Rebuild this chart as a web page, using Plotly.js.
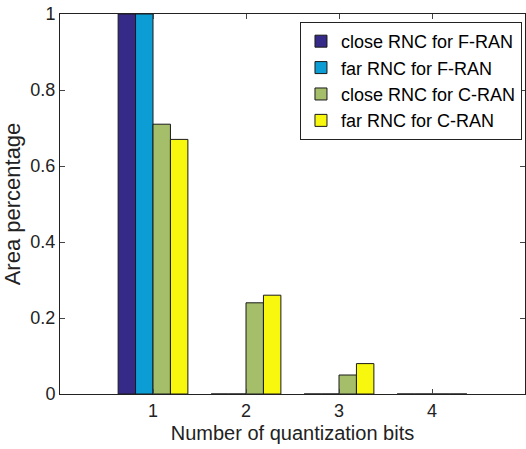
<!DOCTYPE html>
<html>
<head>
<meta charset="utf-8">
<script src="https://cdn.plot.ly/plotly-3.0.1.min.js"></script>
<style>html,body{margin:0;padding:0;background:#fff;}#chart{width:526px;height:449px;}</style>
</head>
<body>
<div id="chart"></div>
<script>
const categories = [1, 2, 3, 4];
const seriesNames = ["close RNC for F-RAN", "far RNC for F-RAN", "close RNC for C-RAN", "far RNC for C-RAN"];
const closeFRAN = [1, 0, 0, 0];
const farFRAN = [1, 0, 0, 0];
const closeCRAN = [0.71, 0.24, 0.05, 0];
const farCRAN = [0.67, 0.26, 0.08, 0];
const colors = ["#352a87", "#0c9dd4", "#a5be6a", "#f8f80e"];
const yTicks = [0, 0.2, 0.4, 0.6, 0.8, 1];

const seriesValues = [closeFRAN, farFRAN, closeCRAN, farCRAN];
const fontFam = "Liberation Sans, Arial, sans-serif";
const traces = seriesValues.map((vals, i) => ({
  type: "bar",
  x: categories,
  y: vals,
  name: seriesNames[i],
  marker: {color: colors[i], line: {color: "#1a1a1a", width: 1}}
}));

const layout = {
  width: 526, height: 449,
  margin: {l: 60, r: 1, t: 14, b: 55},
  paper_bgcolor: "#fff", plot_bgcolor: "#fff",
  barmode: "group", bargap: 0.25, bargroupgap: 0,
  font: {family: fontFam, size: 16, color: "#222"},
  showlegend: true,
  legend: {
    x: 0.9935, xanchor: "right", y: 0.979, yanchor: "top",
    bgcolor: "#fff", bordercolor: "#222", borderwidth: 1,
    font: {family: fontFam, size: 18, color: "#000"},
    tracegroupgap: 0, itemwidth: 30
  },
  xaxis: {
    range: [0, 5], tickvals: categories, ticktext: categories.map(String),
    ticks: "inside", ticklen: 5, tickcolor: "#444",
    showline: true, linecolor: "#222", linewidth: 1, mirror: "ticks",
    showgrid: false, zeroline: false,
    tickfont: {family: fontFam, size: 18, color: "#222"},
    title: {text: "Number of quantization bits", font: {family: fontFam, size: 20, color: "#222"}, standoff: 6}
  },
  yaxis: {
    range: [0, 1], tickvals: yTicks, ticktext: yTicks.map(String),
    ticks: "inside", ticklen: 5, tickcolor: "#444",
    showline: true, linecolor: "#222", linewidth: 1, mirror: "ticks",
    showgrid: false, zeroline: false,
    tickfont: {family: fontFam, size: 18, color: "#222"},
    title: {text: "Area percentage", font: {family: fontFam, size: 22, color: "#222"}, standoff: 4}
  }
};

Plotly.newPlot("chart", traces, layout, {displayModeBar: false, staticPlot: true});
</script>
</body>
</html>
